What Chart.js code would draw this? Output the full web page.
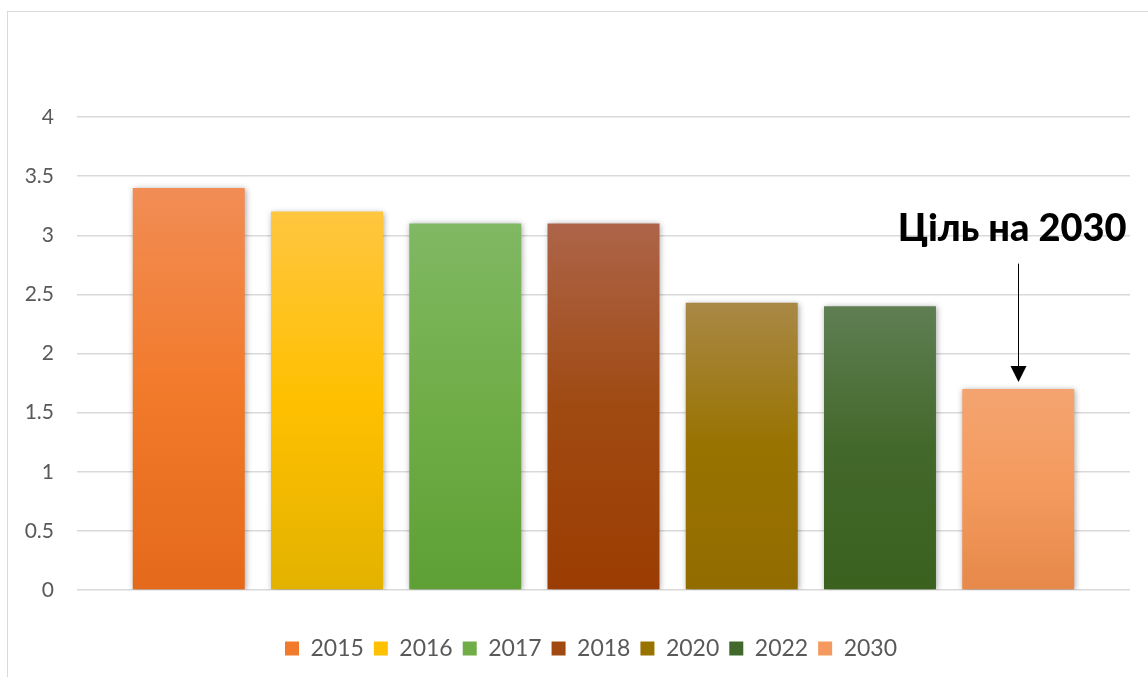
<!DOCTYPE html>
<html>
<head>
<meta charset="utf-8">
<script src="https://cdn.jsdelivr.net/npm/chart.js@4.4.1/dist/chart.umd.min.js"></script>
<style>
  html, body { margin: 0; padding: 0; background: #fff; }
  #frame { position: absolute; left: 7px; top: 11px; width: 1200px; height: 720px; border: 1px solid #d9d9d9; box-sizing: border-box; }
  #wrap { position: absolute; left: 0; top: 0; width: 1148px; height: 677px; }
</style>
</head>
<body>
<div id="frame"></div>
<div id="wrap"><canvas id="c" width="1148" height="677"></canvas></div>
<script>
// ---- data ----
const seriesNames = ['2015', '2016', '2017', '2018', '2020', '2022', '2030'];
const seriesValues = [3.4, 3.2, 3.1, 3.1, 2.43, 2.4, 1.7];
const yMin = 0;
const yMax = 4;
const yStep = 0.5;
const topColors = ['#F18D55', '#FFC640', '#80B863', '#AD6449', '#A98846', '#5F7F53', '#F4A470'];
const midColors = ['#F27A2B', '#FFC000', '#70AD47', '#A04A12', '#997300', '#43682B', '#F49A5E'];
const bottomColors = ['#E5691A', '#E3B200', '#5EA035', '#9B3D03', '#936C00', '#3A611E', '#E6894A'];
const annotationText = 'Ціль на 2030';
const annotationTextValue = 2.95;
const annotationArrowStartValue = 2.76;

const datasets = seriesNames.map((name, i) => ({
  label: name,
  data: [seriesValues[i]],
  yAxisID: 'y',
  backgroundColor: (ctx) => {
    const chart = ctx.chart;
    const ys = chart.scales && chart.scales.y;
    if (!ys || ctx.type !== 'data') return midColors[i];
    const top = ys.getPixelForValue(seriesValues[i]);
    const bot = ys.getPixelForValue(0);
    if (!isFinite(top) || !isFinite(bot) || top === bot) return midColors[i];
    const g = chart.ctx.createLinearGradient(0, top, 0, bot);
    g.addColorStop(0, topColors[i]);
    g.addColorStop(0.5, midColors[i]);
    g.addColorStop(1, bottomColors[i]);
    return g;
  },
  borderWidth: 0
}));

const shadowPlugin = {
  id: 'barShadow',
  beforeDatasetsDraw(chart) {
    const c = chart.ctx;
    c.save();
    c.shadowColor = 'rgba(0,0,0,0.35)';
    c.shadowBlur = 6;
    c.shadowOffsetX = 1;
    c.shadowOffsetY = 1;
  },
  afterDatasetsDraw(chart) {
    chart.ctx.restore();
  }
};

const annotationPlugin = {
  id: 'goalNote',
  afterDraw(chart) {
    const meta = chart.getDatasetMeta(seriesNames.length - 1);
    const bar = meta.data[0];
    if (!bar) return;
    const ys = chart.scales.y;
    const c = chart.ctx;
    c.save();
    c.fillStyle = '#000';
    c.font = '900 38px Lato, "Open Sans", sans-serif';
    c.textAlign = 'center';
    c.textBaseline = 'alphabetic';
    c.fillText(annotationText, bar.x - 6, ys.getPixelForValue(annotationTextValue));
    const x = Math.round(bar.x) + 0.5;
    const y0 = ys.getPixelForValue(annotationArrowStartValue);
    const tip = bar.y - 7;
    c.strokeStyle = '#000';
    c.lineWidth = 1;
    c.beginPath();
    c.moveTo(x, y0);
    c.lineTo(x, tip - 14);
    c.stroke();
    c.beginPath();
    c.moveTo(x - 8, tip - 16);
    c.lineTo(x + 8, tip - 16);
    c.lineTo(x, tip);
    c.closePath();
    c.fill();
    c.restore();
  }
};

new Chart(document.getElementById('c'), {
  type: 'bar',
  data: { labels: [''], datasets },
  options: {
    responsive: false,
    animation: false,
    devicePixelRatio: 1,
    layout: { padding: { left: 0, right: -34, top: 117, bottom: 7 } },
    datasets: { bar: { categoryPercentage: 0.919, barPercentage: 0.81 } },
    scales: {
      x: {
        display: true,
        grid: { display: false },
        border: { display: false },
        ticks: { display: false },
        afterFit(scale) { scale.height = 37; }
      },
      y: {
        position: 'left',
        min: yMin, max: yMax,
        afterFit(scale) { scale.width = 77; },
        grid: { color: '#d9d9d9', lineWidth: 1.5, drawTicks: false },
        border: { display: false },
        ticks: {
          stepSize: yStep,
          padding: 23,
          color: '#595959',
          font: { family: 'Lato, "Open Sans", sans-serif', size: 21 },
          callback: (v) => String(Math.round(v * 100) / 100)
        }
      },
      yRight: {
        type: 'linear',
        position: 'right',
        display: true,
        min: yMin, max: yMax,
        grid: { display: false },
        border: { display: false },
        ticks: { display: false },
        afterFit(scale) { scale.width = 52; }
      }
    },
    plugins: {
      tooltip: { enabled: false },
      legend: {
        position: 'bottom',
        labels: {
          boxWidth: 14,
          boxHeight: 14,
          padding: 10,
          color: '#595959',
          font: { family: 'Lato, "Open Sans", sans-serif', size: 23 },
          generateLabels: (chart) => seriesNames.map((n, i) => ({
            text: n,
            fillStyle: midColors[i],
            strokeStyle: midColors[i],
            lineWidth: 0,
            fontColor: '#595959',
            datasetIndex: i,
            hidden: false
          }))
        }
      }
    }
  },
  plugins: [shadowPlugin, annotationPlugin]
});
</script>
</body>
</html>
